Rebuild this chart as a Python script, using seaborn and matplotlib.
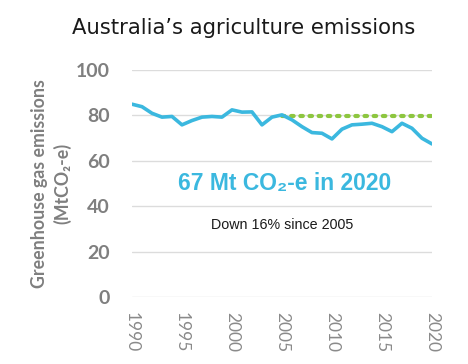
import matplotlib
matplotlib.use("Agg")
import matplotlib.pyplot as plt
import seaborn as sns
import pandas as pd

years = list(range(1990, 2021))
emissions = [84.9, 83.8, 80.9, 79.2, 79.5, 75.8, 77.7, 79.2, 79.5, 79.2,
             82.4, 81.4, 81.5, 75.8, 79.2, 80.2, 78.0, 75.0, 72.4, 72.1,
             69.6, 73.9, 75.8, 76.1, 76.5, 75.0, 72.8, 76.5, 74.3, 69.9, 67.4]
ref_years = [2005, 2020]
ref_level = [79.9, 79.9]
y_ticks = [0, 20, 40, 60, 80, 100]
x_ticks = [1990, 1995, 2000, 2005, 2010, 2015, 2020]

df = pd.DataFrame({"year": years, "emissions": emissions})
ref = pd.DataFrame({"year": ref_years, "level": ref_level})

sns.set_theme(style="white")

fig = plt.figure(figsize=(4.68, 3.64), dpi=100)
ax = fig.add_axes([0.282, 0.184, 0.641, 0.624])

grey = "#7f7f7f"
cyan = "#3bb8df"

for t in y_ticks:
    ax.axhline(t, color="#dcdcdc", linewidth=1, zorder=0)

sns.lineplot(data=ref, x="year", y="level", ax=ax, color="#8dc63f",
             linewidth=3, linestyle=(0, (0.6, 1.6)), dash_capstyle="round", zorder=2)
sns.lineplot(data=df, x="year", y="emissions", ax=ax, color=cyan,
             linewidth=2.6, zorder=3, solid_joinstyle="round", solid_capstyle="round")

ax.set_xlim(1990, 2020)
ax.set_ylim(0, 100)
ax.set_xticks(x_ticks)
ax.set_yticks(y_ticks)
ax.set_xlabel("")
ax.set_ylabel("")
for s in ax.spines.values():
    s.set_visible(False)

ax.tick_params(axis="y", length=0, pad=16)
ax.tick_params(axis="x", length=0, pad=11)
for lab in ax.get_yticklabels():
    lab.set_family("Lato")
    lab.set_fontweight("bold")
    lab.set_fontsize(14)
    lab.set_color(grey)
for lab in ax.get_xticklabels():
    lab.set_family("Lato")
    lab.set_fontsize(12.5)
    lab.set_color("#8a8a8a")
    lab.set_rotation(-90)
    lab.set_va("top")
    lab.set_ha("center")

fig.text(0.521, 0.923, "Australia\u2019s agriculture emissions", ha="center", va="center",
         fontsize=15.2, color="#1a1a1a", family="DejaVu Sans")

fig.text(0.109, 0.497, "Greenhouse gas emissions\n(MtCO\u2082-e)", rotation=90,
         ha="center", va="center", multialignment="center", fontsize=12.8,
         color=grey, fontweight="bold", family=["Lato", "DejaVu Sans"], linespacing=1.35)

ax.text(2005.3, 50.2, "67 Mt CO\u2082-e in 2020", ha="center", va="center",
        fontsize=16.5, fontweight="bold", color=cyan,
        family=["Liberation Sans", "DejaVu Sans"])
ax.text(2005.0, 31.7, "Down 16% since 2005", ha="center", va="center",
        fontsize=10.3, color="#1a1a1a",
        family=["Liberation Sans Narrow", "Liberation Sans"])

fig.savefig("out.png", dpi=100, facecolor="white")
